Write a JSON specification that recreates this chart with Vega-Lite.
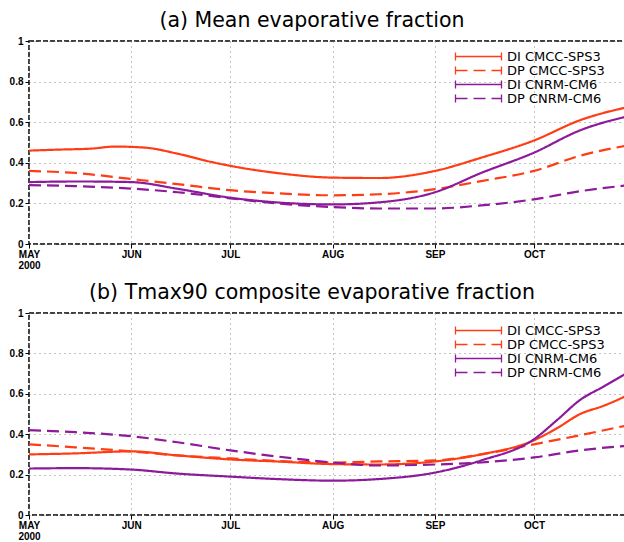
{
  "$schema": "https://vega.github.io/schema/vega-lite/v6.json",
  "background": "white",
  "padding": {"left": 8, "top": 9, "right": 0, "bottom": 0},
  "spacing": 10,
  "config": {
    "view": {"stroke": "black", "strokeWidth": 1.5, "strokeDash": [5, 2]},
    "font": "Liberation Sans",
    "title": {"fontSize": 20.5, "fontWeight": "normal", "font": "DejaVu Sans", "color": "black", "offset": 5, "anchor": "middle", "dx": -15},
    "axis": {
      "gridColor": "#888", "gridDash": [1, 4], "gridWidth": 1,
      "domain": false, "tickColor": "black", "tickSize": 4,
      "labelFont": "Liberation Sans", "labelFontSize": 10, "labelFontWeight": "bold", "labelColor": "black", "title": null
    },
    "legend": {"title": null, "orient": "none", "symbolType": "M-11.5,0L11.5,0M-11.5,-2L-11.5,2M11.5,-2L11.5,2", "symbolSize": 16, "symbolStrokeWidth": 1.3, "labelFont": "DejaVu Sans", "labelFontSize": 13, "labelColor": "black", "rowPadding": -2, "labelOffset": 22, "padding": 0}
  },
  "data": {"values": [
    {"p":"a","s":"DI CMCC-SPS3","d":"2000-05-01","v":0.46},
    {"p":"a","s":"DI CMCC-SPS3","d":"2000-05-10","v":0.465},
    {"p":"a","s":"DI CMCC-SPS3","d":"2000-05-20","v":0.47},
    {"p":"a","s":"DI CMCC-SPS3","d":"2000-05-27","v":0.48},
    {"p":"a","s":"DI CMCC-SPS3","d":"2000-06-05","v":0.475},
    {"p":"a","s":"DI CMCC-SPS3","d":"2000-06-15","v":0.445},
    {"p":"a","s":"DI CMCC-SPS3","d":"2000-06-25","v":0.405},
    {"p":"a","s":"DI CMCC-SPS3","d":"2000-07-01","v":0.385},
    {"p":"a","s":"DI CMCC-SPS3","d":"2000-07-15","v":0.35},
    {"p":"a","s":"DI CMCC-SPS3","d":"2000-08-01","v":0.327},
    {"p":"a","s":"DI CMCC-SPS3","d":"2000-08-15","v":0.325},
    {"p":"a","s":"DI CMCC-SPS3","d":"2000-09-01","v":0.36},
    {"p":"a","s":"DI CMCC-SPS3","d":"2000-09-15","v":0.425},
    {"p":"a","s":"DI CMCC-SPS3","d":"2000-10-01","v":0.51},
    {"p":"a","s":"DI CMCC-SPS3","d":"2000-10-15","v":0.61},
    {"p":"a","s":"DI CMCC-SPS3","d":"2000-10-31","v":0.68},
    {"p":"a","s":"DP CMCC-SPS3","d":"2000-05-01","v":0.36},
    {"p":"a","s":"DP CMCC-SPS3","d":"2000-05-15","v":0.35},
    {"p":"a","s":"DP CMCC-SPS3","d":"2000-06-01","v":0.32},
    {"p":"a","s":"DP CMCC-SPS3","d":"2000-06-15","v":0.295},
    {"p":"a","s":"DP CMCC-SPS3","d":"2000-07-01","v":0.265},
    {"p":"a","s":"DP CMCC-SPS3","d":"2000-07-15","v":0.25},
    {"p":"a","s":"DP CMCC-SPS3","d":"2000-08-01","v":0.24},
    {"p":"a","s":"DP CMCC-SPS3","d":"2000-08-15","v":0.245},
    {"p":"a","s":"DP CMCC-SPS3","d":"2000-09-01","v":0.27},
    {"p":"a","s":"DP CMCC-SPS3","d":"2000-09-15","v":0.31},
    {"p":"a","s":"DP CMCC-SPS3","d":"2000-10-01","v":0.36},
    {"p":"a","s":"DP CMCC-SPS3","d":"2000-10-15","v":0.435},
    {"p":"a","s":"DP CMCC-SPS3","d":"2000-10-31","v":0.49},
    {"p":"a","s":"DI CNRM-CM6","d":"2000-05-01","v":0.305},
    {"p":"a","s":"DI CNRM-CM6","d":"2000-05-16","v":0.308},
    {"p":"a","s":"DI CNRM-CM6","d":"2000-06-01","v":0.305},
    {"p":"a","s":"DI CNRM-CM6","d":"2000-06-15","v":0.272},
    {"p":"a","s":"DI CNRM-CM6","d":"2000-07-01","v":0.228},
    {"p":"a","s":"DI CNRM-CM6","d":"2000-07-15","v":0.205},
    {"p":"a","s":"DI CNRM-CM6","d":"2000-08-01","v":0.195},
    {"p":"a","s":"DI CNRM-CM6","d":"2000-08-15","v":0.205},
    {"p":"a","s":"DI CNRM-CM6","d":"2000-09-01","v":0.255},
    {"p":"a","s":"DI CNRM-CM6","d":"2000-09-15","v":0.35},
    {"p":"a","s":"DI CNRM-CM6","d":"2000-10-01","v":0.45},
    {"p":"a","s":"DI CNRM-CM6","d":"2000-10-15","v":0.56},
    {"p":"a","s":"DI CNRM-CM6","d":"2000-10-31","v":0.635},
    {"p":"a","s":"DP CNRM-CM6","d":"2000-05-01","v":0.29},
    {"p":"a","s":"DP CNRM-CM6","d":"2000-05-15","v":0.285},
    {"p":"a","s":"DP CNRM-CM6","d":"2000-06-01","v":0.273},
    {"p":"a","s":"DP CNRM-CM6","d":"2000-06-15","v":0.255},
    {"p":"a","s":"DP CNRM-CM6","d":"2000-07-01","v":0.225},
    {"p":"a","s":"DP CNRM-CM6","d":"2000-07-15","v":0.2},
    {"p":"a","s":"DP CNRM-CM6","d":"2000-08-01","v":0.182},
    {"p":"a","s":"DP CNRM-CM6","d":"2000-08-15","v":0.175},
    {"p":"a","s":"DP CNRM-CM6","d":"2000-09-01","v":0.175},
    {"p":"a","s":"DP CNRM-CM6","d":"2000-09-15","v":0.19},
    {"p":"a","s":"DP CNRM-CM6","d":"2000-10-01","v":0.22},
    {"p":"a","s":"DP CNRM-CM6","d":"2000-10-15","v":0.26},
    {"p":"a","s":"DP CNRM-CM6","d":"2000-10-31","v":0.292},
    {"p":"b","s":"DI CMCC-SPS3","d":"2000-05-01","v":0.3},
    {"p":"b","s":"DI CMCC-SPS3","d":"2000-05-15","v":0.305},
    {"p":"b","s":"DI CMCC-SPS3","d":"2000-06-01","v":0.315},
    {"p":"b","s":"DI CMCC-SPS3","d":"2000-06-15","v":0.295},
    {"p":"b","s":"DI CMCC-SPS3","d":"2000-07-01","v":0.275},
    {"p":"b","s":"DI CMCC-SPS3","d":"2000-07-15","v":0.265},
    {"p":"b","s":"DI CMCC-SPS3","d":"2000-08-01","v":0.252},
    {"p":"b","s":"DI CMCC-SPS3","d":"2000-08-15","v":0.25},
    {"p":"b","s":"DI CMCC-SPS3","d":"2000-09-01","v":0.265},
    {"p":"b","s":"DI CMCC-SPS3","d":"2000-09-15","v":0.3},
    {"p":"b","s":"DI CMCC-SPS3","d":"2000-10-01","v":0.37},
    {"p":"b","s":"DI CMCC-SPS3","d":"2000-10-08","v":0.43},
    {"p":"b","s":"DI CMCC-SPS3","d":"2000-10-15","v":0.5},
    {"p":"b","s":"DI CMCC-SPS3","d":"2000-10-22","v":0.54},
    {"p":"b","s":"DI CMCC-SPS3","d":"2000-10-31","v":0.605},
    {"p":"b","s":"DP CMCC-SPS3","d":"2000-05-01","v":0.35},
    {"p":"b","s":"DP CMCC-SPS3","d":"2000-05-15","v":0.335},
    {"p":"b","s":"DP CMCC-SPS3","d":"2000-06-01","v":0.315},
    {"p":"b","s":"DP CMCC-SPS3","d":"2000-06-15","v":0.295},
    {"p":"b","s":"DP CMCC-SPS3","d":"2000-07-01","v":0.28},
    {"p":"b","s":"DP CMCC-SPS3","d":"2000-07-15","v":0.268},
    {"p":"b","s":"DP CMCC-SPS3","d":"2000-08-01","v":0.26},
    {"p":"b","s":"DP CMCC-SPS3","d":"2000-08-15","v":0.265},
    {"p":"b","s":"DP CMCC-SPS3","d":"2000-09-01","v":0.27},
    {"p":"b","s":"DP CMCC-SPS3","d":"2000-09-15","v":0.3},
    {"p":"b","s":"DP CMCC-SPS3","d":"2000-10-01","v":0.35},
    {"p":"b","s":"DP CMCC-SPS3","d":"2000-10-15","v":0.395},
    {"p":"b","s":"DP CMCC-SPS3","d":"2000-10-31","v":0.45},
    {"p":"b","s":"DI CNRM-CM6","d":"2000-05-01","v":0.23},
    {"p":"b","s":"DI CNRM-CM6","d":"2000-05-15","v":0.232},
    {"p":"b","s":"DI CNRM-CM6","d":"2000-06-01","v":0.225},
    {"p":"b","s":"DI CNRM-CM6","d":"2000-06-15","v":0.205},
    {"p":"b","s":"DI CNRM-CM6","d":"2000-07-01","v":0.19},
    {"p":"b","s":"DI CNRM-CM6","d":"2000-07-15","v":0.178},
    {"p":"b","s":"DI CNRM-CM6","d":"2000-08-01","v":0.17},
    {"p":"b","s":"DI CNRM-CM6","d":"2000-08-15","v":0.178},
    {"p":"b","s":"DI CNRM-CM6","d":"2000-09-01","v":0.21},
    {"p":"b","s":"DI CNRM-CM6","d":"2000-09-15","v":0.27},
    {"p":"b","s":"DI CNRM-CM6","d":"2000-10-01","v":0.375},
    {"p":"b","s":"DI CNRM-CM6","d":"2000-10-08","v":0.47},
    {"p":"b","s":"DI CNRM-CM6","d":"2000-10-15","v":0.57},
    {"p":"b","s":"DI CNRM-CM6","d":"2000-10-22","v":0.635},
    {"p":"b","s":"DI CNRM-CM6","d":"2000-10-31","v":0.72},
    {"p":"b","s":"DP CNRM-CM6","d":"2000-05-01","v":0.42},
    {"p":"b","s":"DP CNRM-CM6","d":"2000-05-15","v":0.41},
    {"p":"b","s":"DP CNRM-CM6","d":"2000-06-01","v":0.39},
    {"p":"b","s":"DP CNRM-CM6","d":"2000-06-15","v":0.36},
    {"p":"b","s":"DP CNRM-CM6","d":"2000-07-01","v":0.32},
    {"p":"b","s":"DP CNRM-CM6","d":"2000-07-15","v":0.29},
    {"p":"b","s":"DP CNRM-CM6","d":"2000-08-01","v":0.26},
    {"p":"b","s":"DP CNRM-CM6","d":"2000-08-15","v":0.245},
    {"p":"b","s":"DP CNRM-CM6","d":"2000-09-01","v":0.25},
    {"p":"b","s":"DP CNRM-CM6","d":"2000-09-15","v":0.26},
    {"p":"b","s":"DP CNRM-CM6","d":"2000-10-01","v":0.285},
    {"p":"b","s":"DP CNRM-CM6","d":"2000-10-15","v":0.32},
    {"p":"b","s":"DP CNRM-CM6","d":"2000-10-31","v":0.345}
  ]},
  "resolve": {"legend": {"color": "independent", "strokeDash": "independent"}},
  "vconcat": [
    {
      "title": "(a)  Mean evaporative fraction",
      "width": 596, "height": 203,
      "transform": [{"filter": "datum.p == 'a'"}],
      "mark": {"type": "line", "strokeWidth": 2.2, "interpolate": "monotone", "clip": true},
      "encoding": {
        "x": {"field": "d", "type": "temporal",
          "scale": {"type": "utc", "domain": ["2000-05-01T00:00:00Z", "2000-10-28T14:00:00Z"]},
          "axis": {"tickCount": {"interval": "month", "step": 1}, "labelAlign": "center", "labelPadding": 1, "labelLineHeight": 11,
            "labelExpr": "utcmonth(datum.value) == 4 ? ['MAY', '2000'] : upper(utcFormat(datum.value, '%b'))"}},
        "y": {"field": "v", "type": "quantitative", "scale": {"domain": [0, 1]},
          "axis": {"values": [0, 0.2, 0.4, 0.6, 0.8, 1], "format": ".1~f", "labelPadding": 2}},
        "color": {"field": "s", "type": "nominal",
          "scale": {"domain": ["DI CMCC-SPS3", "DP CMCC-SPS3", "DI CNRM-CM6", "DP CNRM-CM6"], "range": ["#ff3c14", "#ff3c14", "#8c1a9a", "#8c1a9a"]},
          "legend": {"legendX": 443, "legendY": 9}},
        "strokeDash": {"field": "s", "type": "nominal",
          "scale": {"domain": ["DI CMCC-SPS3", "DP CMCC-SPS3", "DI CNRM-CM6", "DP CNRM-CM6"], "range": [[1, 0], [12, 6], [1, 0], [12, 6]]},
          "legend": {"legendX": 443, "legendY": 9}}
      }
    },
    {
      "title": "(b)  Tmax90 composite evaporative fraction",
      "width": 596, "height": 202,
      "transform": [{"filter": "datum.p == 'b'"}],
      "mark": {"type": "line", "strokeWidth": 2.2, "interpolate": "monotone", "clip": true},
      "encoding": {
        "x": {"field": "d", "type": "temporal",
          "scale": {"type": "utc", "domain": ["2000-05-01T00:00:00Z", "2000-10-28T14:00:00Z"]},
          "axis": {"tickCount": {"interval": "month", "step": 1}, "labelAlign": "center", "labelPadding": 1, "labelLineHeight": 11,
            "labelExpr": "utcmonth(datum.value) == 4 ? ['MAY', '2000'] : upper(utcFormat(datum.value, '%b'))"}},
        "y": {"field": "v", "type": "quantitative", "scale": {"domain": [0, 1]},
          "axis": {"values": [0, 0.2, 0.4, 0.6, 0.8, 1], "format": ".1~f", "labelPadding": 2}},
        "color": {"field": "s", "type": "nominal",
          "scale": {"domain": ["DI CMCC-SPS3", "DP CMCC-SPS3", "DI CNRM-CM6", "DP CNRM-CM6"], "range": ["#ff3c14", "#ff3c14", "#8c1a9a", "#8c1a9a"]},
          "legend": {"legendX": 443, "legendY": 11}},
        "strokeDash": {"field": "s", "type": "nominal",
          "scale": {"domain": ["DI CMCC-SPS3", "DP CMCC-SPS3", "DI CNRM-CM6", "DP CNRM-CM6"], "range": [[1, 0], [12, 6], [1, 0], [12, 6]]},
          "legend": {"legendX": 443, "legendY": 11}}
      }
    }
  ]
}
